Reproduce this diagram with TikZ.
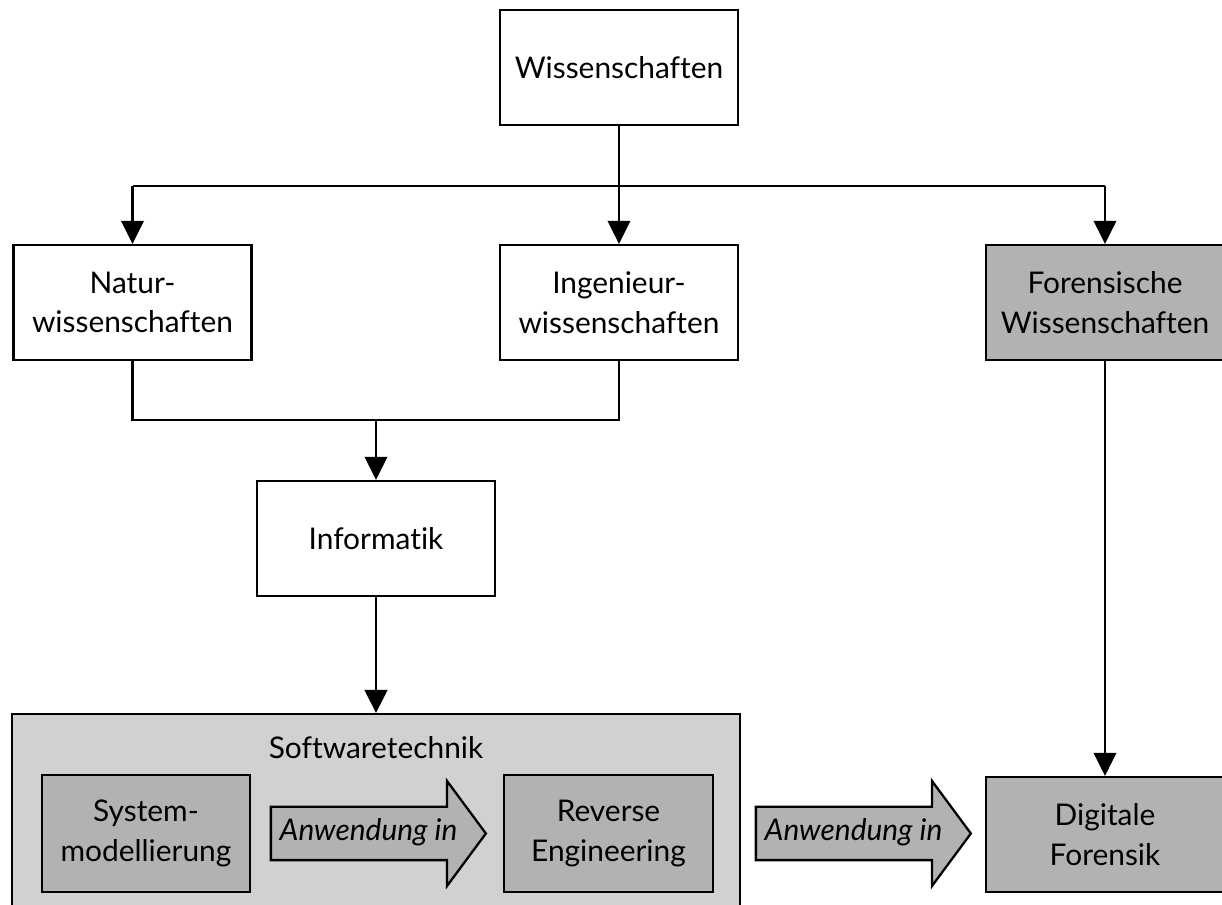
\documentclass[tikz,border=0pt]{standalone}
\usepackage{fontspec}
\setmainfont{Lato}[Ligatures=NoCommon]
\usetikzlibrary{arrows.meta, shapes.arrows, positioning}
\definecolor{lightgr}{gray}{0.82}
\definecolor{darkgr}{gray}{0.70}
\tikzset{>={Triangle[length=0.46cm,width=0.45cm]},
         every path/.style={line width=1.3pt},
         box/.style={draw,align=center,minimum width=4.76cm,minimum height=2.3cm,
                     font=\fontsize{17}{22.5}\selectfont},
         greybox/.style={box,fill=darkgr},
         subbox/.style={box,fill=darkgr,minimum width=4.17cm,minimum height=2.34cm},
         usearrow/.style={single arrow,draw,fill=darkgr,minimum height=4.3cm,
                     single arrow head extend=0.52cm,single arrow tip angle=107,
                     inner ysep=0.22cm,text height=12.5pt,text depth=4pt,
                     font=\fontsize{17}{22.5}\selectfont\itshape}}

\begin{document}
\begin{tikzpicture}
        \useasboundingbox (0,0) rectangle (24.44,18.1);
        \node[box](ws)at(12.38,16.75){Wissenschaften};
        \node[box](nw)at(2.65,12.05){Natur-\\wissenschaften};
        \node[box](iw)at(12.38,12.05){Ingenieur-\\wissenschaften};
        \node[greybox](fw)at(22.1,12.05){Forensische\\Wissenschaften};
        \node[box](inf)at(7.52,7.33){Informatik};

        \node[draw,fill=lightgr,anchor=north,minimum width=14.56cm,minimum height=4.2cm](swt)at(7.52,3.84){};
        \node[font=\fontsize{17}{22.5}\selectfont](swtl)at(7.52,3.14){Softwaretechnik};
        \node[subbox](sm)at(2.92,1.43){System-\\modellierung};
        \node[usearrow](a1)at(7.37,1.43){Anwendung in};
        \node[subbox](re)at(12.17,1.43){Reverse\\Engineering};
        \node[usearrow](a2)at(17.07,1.43){Anwendung in};
        \node[greybox](df)at(22.1,1.41){Digitale\\Forensik};

        \coordinate(bar)at(12.38,14.38);
        \coordinate(join)at(7.52,9.7);
        \draw[->](ws)--(iw);
        \draw(bar -| nw)--(bar -| fw);
        \draw[->](bar -| nw)--(nw.north);
        \draw[->](bar -| fw)--(fw.north);
        \draw(nw.south)|-(join)-|(iw.south);
        \draw[->](join)--(inf.north);
        \draw[->](inf)--(swt.north);
        \draw[->](fw)--(df);
    \end{tikzpicture}
\end{document}
